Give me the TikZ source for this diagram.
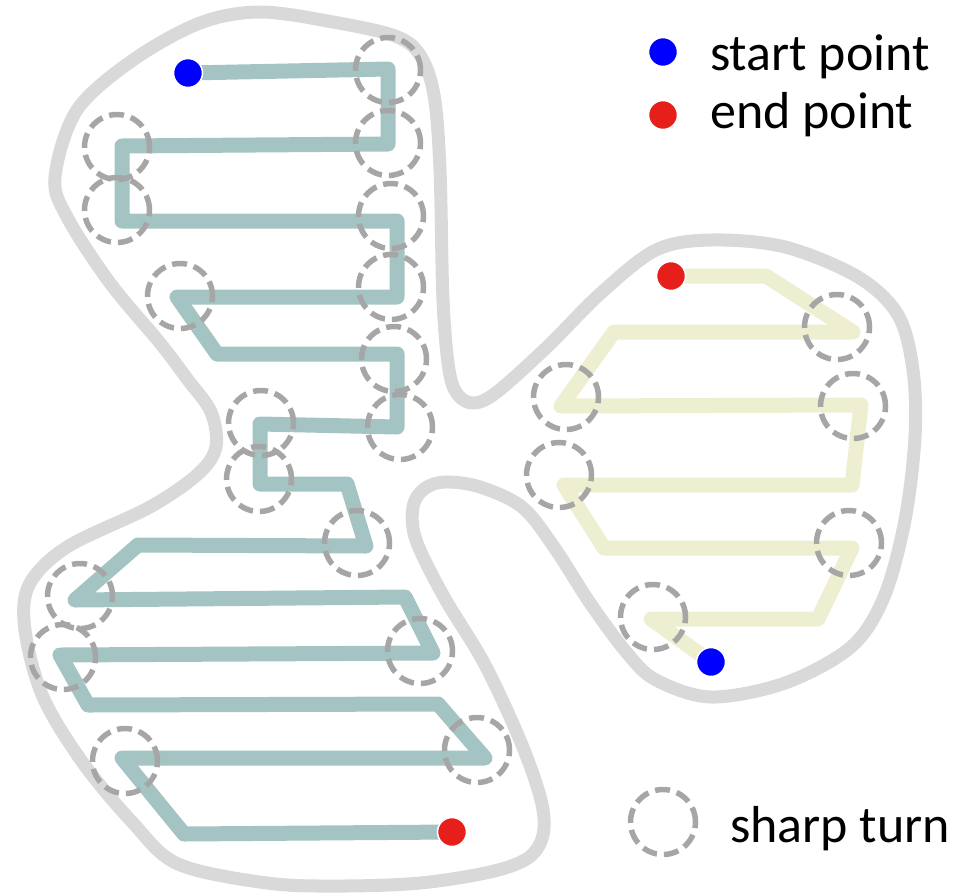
\documentclass[tikz,border=0pt]{standalone}
\usepackage{fontspec}
\setmainfont{Carlito}
\definecolor{teal1}{HTML}{A3C4C3}
\definecolor{yel1}{HTML}{EEEED0}
\definecolor{blob}{HTML}{D9D9D9}
\definecolor{turn}{HTML}{A6A6A6}
\definecolor{startc}{HTML}{0000FF}
\definecolor{endc}{HTML}{E61F1A}
\tikzset{
  route/.style={line width=15pt, line join=round, line cap=round},
  outline/.style={draw=blob, line width=13pt},
  turnc/.style={circle, draw=turn, line width=5.5pt, minimum size=65pt, inner sep=0pt, dash pattern=on 15pt off 7pt},
  dot/.style={circle, fill=#1, draw=white, line width=1.5pt, minimum size=29pt, inner sep=0pt},
  legtext/.style={anchor=base west, inner sep=0pt, font=\fontsize{52}{60}\selectfont}
}
\begin{document}
\begin{tikzpicture}[x=1pt,y=-1pt]
\useasboundingbox (0,0) rectangle (971,892);
% blob outline
\draw[outline] plot[smooth cycle, tension=0.55] coordinates {
 (260,12) (333,22) (395,36) (420,55) (434,95) (440,170) (443,300) (449,370) (458,395) (474,403)
 (497,392) (547,347) (601,293) (656,250) (711,240) (785,247) (858,277) (898,315) (913,370)
 (915,437) (905,520) (884,597) (851,647) (785,683) (711,697) (656,680) (627,653) (590,603)
 (554,547) (522,507) (480,487) (445,482) (424,489) (413,507) (416,540) (444,597) (484,663)
 (520,740) (541,800) (543,835) (528,858) (490,872) (420,883) (340,886) (267,883) (178,864)
 (133,823) (83,763) (43,697) (25,630) (29,585) (67,547) (150,507) (198,474) (216,447)
 (211,412) (188,380) (160,343) (110,283) (67,217) (55,177) (77,110) (133,60) (200,23)};
% teal route
\draw[route, teal1] (188,73) -- (388,69) -- (388,144) -- (122,146) -- (122,221) -- (397,221)
 -- (397,297) -- (177,297) -- (217,354) -- (397,354) -- (397,427) -- (260,424) -- (260,484)
 -- (347,484) -- (366,546) -- (138,545) -- (75,600) -- (405,597) -- (433,653) -- (60,655)
 -- (88,705) -- (438,704) -- (485,758) -- (122,758) -- (184,834) -- (452,832);
% yellow route
\draw[route, yel1] (671,276) -- (766,276) -- (853,332) -- (614,332) -- (561,406) -- (861,405)
 -- (852,485) -- (564,485) -- (604,548) -- (852,548) -- (818,619) -- (651,619) -- (711,662);
% sharp turns
\node[turnc] (t1) at (388,70) {};
\node[turnc] (t2) at (388,143) {};
\node[turnc] (t3) at (117,147) {};
\node[turnc] (t4) at (117,210) {};
\node[turnc] (t5) at (391,216) {};
\node[turnc] (t6) at (391,287) {};
\node[turnc] (t7) at (180,296) {};
\node[turnc] (t8) at (394,359) {};
\node[turnc] (t9) at (400,427) {};
\node[turnc] (t10) at (261,423) {};
\node[turnc] (t11) at (259,479) {};
\node[turnc] (t12) at (357,543) {};
\node[turnc] (t13) at (80,596) {};
\node[turnc] (t14) at (63,657) {};
\node[turnc] (t15) at (420,651) {};
\node[turnc] (t16) at (477,750) {};
\node[turnc] (t17) at (125,761) {};
\node[turnc] (y1) at (837,327) {};
\node[turnc] (y2) at (566,397) {};
\node[turnc] (y3) at (853,406) {};
\node[turnc] (y4) at (559,475) {};
\node[turnc] (y5) at (849,543) {};
\node[turnc] (y6) at (653,617) {};
% start/end dots
\node[dot=startc] (s1) at (188,73) {};
\node[dot=endc] (e1) at (452,832) {};
\node[dot=endc] (e2) at (671,276) {};
\node[dot=startc] (s2) at (711,662) {};
% legend
\node[dot=startc] (ls) at (663,52) {};
\node[dot=endc] (le) at (663,115) {};
\node[turnc] (lt) at (663,822) {};
\node[legtext] (lst) at (710,70) {start point};
\node[legtext] (let) at (710,128) {end point};
\node[legtext] (ltt) at (730,842) {sharp turn};
\end{tikzpicture}
\end{document}
